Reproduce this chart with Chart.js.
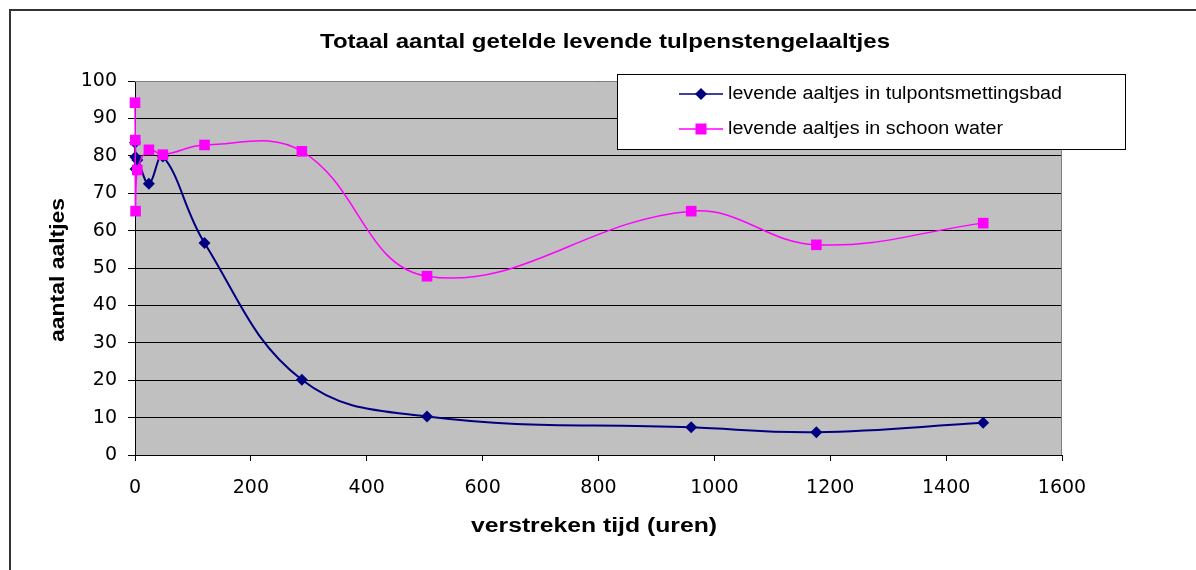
<!DOCTYPE html>
<html>
<head>
<meta charset="utf-8">
<title>Totaal aantal getelde levende tulpenstengelaaltjes</title>
<script src="https://cdn.jsdelivr.net/npm/chart.js@4"></script>
<style>
  html, body { margin: 0; padding: 0; background: #fff; }
  #wrap { width: 1196px; height: 570px; }
</style>
</head>
<body>
<div id="wrap"><canvas id="eelChart" width="1196" height="570"></canvas></div>
<script>
// ---- data ----
const hours = [0, 0.5, 1, 4, 24, 48, 120, 288, 504, 960, 1176, 1464];
const bathValues = [83.5, 79.7, 76.5, 78.9, 72.5, 79.8, 56.7, 20.1, 10.3, 7.4, 6.1, 8.6];
const cleanValues = [94.2, 84.2, 65.2, 76.2, 81.6, 80.3, 82.9, 81.2, 47.8, 65.2, 56.2, 62.0];
const xTicks = [0, 200, 400, 600, 800, 1000, 1200, 1400, 1600];
const yTicks = [0, 10, 20, 30, 40, 50, 60, 70, 80, 90, 100];
const seriesNames = ['levende aaltjes in tulpontsmettingsbad', 'levende aaltjes in schoon water'];

const FONT = 'Liberation Sans, Arial, sans-serif';
const TICK_FONT = 'DejaVu Sans, sans-serif';
const NAVY = '#000080';
const MAGENTA = '#ff00ff';

function toPoints(xs, ys) {
  return xs.map((x, i) => ({ x: x, y: ys[i] }));
}

// Excel text renders a bit wider than Arial, so stretch it to the measured width
function fitText(ctx, text, x, y, width, align) {
  const w = ctx.measureText(text).width;
  const sx = width / w;
  ctx.save();
  ctx.translate(x, y);
  ctx.scale(sx, 1);
  ctx.textAlign = align || 'center';
  ctx.fillText(text, 0, 0);
  ctx.restore();
}

function drawMarker(ctx, style, x, y, color) {
  ctx.fillStyle = color;
  ctx.beginPath();
  if (style === 'diamond') {
    ctx.moveTo(x, y - 6);
    ctx.lineTo(x + 6, y);
    ctx.lineTo(x, y + 6);
    ctx.lineTo(x - 6, y);
  } else {
    ctx.rect(x - 5.5, y - 5.5, 11, 11);
  }
  ctx.closePath();
  ctx.fill();
}

// background, frame, titles and legend box
const excelLook = {
  id: 'excelLook',
  beforeDraw(chart) {
    const ctx = chart.ctx;
    const a = chart.chartArea;
    ctx.save();
    ctx.fillStyle = '#fff';
    ctx.fillRect(0, 0, chart.width, chart.height);
    // outer chart frame (only top/left visible)
    ctx.strokeStyle = '#333';
    ctx.lineWidth = 2;
    ctx.beginPath();
    ctx.moveTo(10, chart.height + 5);
    ctx.lineTo(10, 10);
    ctx.lineTo(chart.width + 5, 10);
    ctx.stroke();
    // plot area
    ctx.fillStyle = '#c0c0c0';
    ctx.fillRect(a.left, a.top, a.right - a.left, a.bottom - a.top);
    ctx.restore();
  },
  afterDraw(chart) {
    const ctx = chart.ctx;
    const a = chart.chartArea;
    ctx.save();
    // grey plot border top/right
    ctx.strokeStyle = '#808080';
    ctx.lineWidth = 1;
    ctx.beginPath();
    ctx.moveTo(a.left, a.top + 0.5);
    ctx.lineTo(a.right - 0.5, a.top + 0.5);
    ctx.lineTo(a.right - 0.5, a.bottom);
    ctx.stroke();

    ctx.fillStyle = '#000';
    ctx.textBaseline = 'middle';
    ctx.font = 'bold 21px ' + FONT;
    fitText(ctx, 'Totaal aantal getelde levende tulpenstengelaaltjes', 605, 42, 570);

    ctx.font = 'bold 20px ' + FONT;
    fitText(ctx, 'verstreken tijd (uren)', 594, 526, 246);

    ctx.save();
    ctx.translate(58, 270);
    ctx.rotate(-Math.PI / 2);
    fitText(ctx, 'aantal aaltjes', 0, 0, 144);
    ctx.restore();

    // legend
    ctx.fillStyle = '#fff';
    ctx.fillRect(617.5, 74.5, 508, 75);
    ctx.strokeStyle = '#000';
    ctx.lineWidth = 1;
    ctx.strokeRect(617.5, 74.5, 508, 75);

    const rows = [
      { y: 94, color: NAVY, style: 'diamond', width: 334 },
      { y: 129, color: MAGENTA, style: 'square', width: 275 }
    ];
    ctx.font = '18px ' + FONT;
    rows.forEach((r, i) => {
      ctx.strokeStyle = r.color;
      ctx.lineWidth = 1.5;
      ctx.beginPath();
      ctx.moveTo(679, r.y);
      ctx.lineTo(723, r.y);
      ctx.stroke();
      drawMarker(ctx, r.style, 701, r.y, r.color);
      ctx.fillStyle = '#000';
      fitText(ctx, seriesNames[i], 728, r.y, r.width, 'left');
    });
    ctx.restore();
  }
};

const ctx = document.getElementById('eelChart').getContext('2d');
new Chart(ctx, {
  type: 'scatter',
  data: {
    datasets: [
      {
        label: seriesNames[0],
        data: toPoints(hours, bathValues),
        showLine: true,
        tension: 0.4,
        clip: false,
        order: 1,
        borderColor: NAVY,
        backgroundColor: NAVY,
        borderWidth: 2,
        pointStyle: 'rectRot',
        pointRadius: 6,
        pointBorderWidth: 0
      },
      {
        label: seriesNames[1],
        data: toPoints(hours, cleanValues),
        showLine: true,
        tension: 0.4,
        clip: false,
        order: 0,
        borderColor: MAGENTA,
        backgroundColor: MAGENTA,
        borderWidth: 1.5,
        pointStyle: 'rect',
        pointRadius: 7.5,
        pointBorderWidth: 0
      }
    ]
  },
  options: {
    responsive: false,
    animation: false,
    layout: {
      padding: { left: 0, top: 81, right: 134, bottom: 0 }
    },
    plugins: {
      legend: { display: false },
      tooltip: { enabled: false }
    },
    scales: {
      x: {
        type: 'linear',
        min: 0,
        max: 1600,
        afterBuildTicks: function(scale) {
          scale.ticks = xTicks.map(v => ({ value: v }));
        },
        afterFit: function(scale) { scale.height = 115; },
        ticks: {
          color: '#000',
          font: { family: TICK_FONT, size: 19 },
          padding: 16,
          maxRotation: 0,
          callback: v => String(v)
        },
        grid: {
          drawOnChartArea: false,
          color: '#000',
          tickLength: 6
        },
        border: { color: '#000', width: 1 }
      },
      y: {
        min: 0,
        max: 100,
        afterBuildTicks: function(scale) {
          scale.ticks = yTicks.map(v => ({ value: v }));
        },
        afterFit: function(scale) { scale.width = 135; },
        ticks: {
          color: '#000',
          font: { family: TICK_FONT, size: 19 },
          padding: 11,
          callback: v => String(v)
        },
        grid: {
          color: '#000',
          tickLength: 7
        },
        border: { color: '#000', width: 1 }
      }
    }
  },
  plugins: [excelLook]
});
</script>
</body>
</html>
